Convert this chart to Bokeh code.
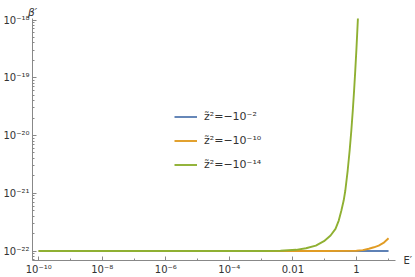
from bokeh.plotting import figure
from bokeh.models import (FixedTicker, CustomJSTickFormatter, Legend, LegendItem,
                          Range1d, LogAxis)
from bokeh.embed import file_html
from bokeh.resources import INLINE

# ---- data (log10 values) ----
series_names = ["z\u0303\u00b2=\u221210\u207b\u00b2",
                "z\u0303\u00b2=\u221210\u207b\u00b9\u2070",
                "z\u0303\u00b2=\u221210\u207b\u00b9\u2074"]
series_colors = ["#5E81B5", "#E19C24", "#8FB032"]

blue_logE = [-10.0, -5.0, 0.0, 1.01]
blue_logB = [-22.0, -22.0, -22.0, -22.0]

orange_logE = [-10.0, -1.0, 0.0, 0.2, 0.39, 0.55, 0.70, 0.85, 1.01]
orange_logB = [-22.0, -21.999, -21.995, -21.985, -21.96, -21.935, -21.905, -21.86, -21.78]

green_logE = [-10.0, -3.0, -2.39, -1.898, -1.588, -1.279, -1.022, -0.814, -0.659,
              -0.557, -0.474, -0.402, -0.350, -0.276, -0.214, -0.161, -0.115,
              -0.074, -0.037, -0.003, 0.028, 0.046, 0.068]
green_logB = [-22.0, -21.999, -21.995, -21.979, -21.952, -21.905, -21.830, -21.732, -21.616,
              -21.472, -21.299, -21.126, -20.952, -20.606, -20.260, -19.913, -19.567,
              -19.221, -18.874, -18.528, -18.182, -17.974, -17.662]

x_ticks = [1e-10, 1e-8, 1e-6, 1e-4, 1e-2, 1.0]
x_tick_labels = ["10\u207b\u00b9\u2070", "10\u207b\u2078", "10\u207b\u2076",
                 "10\u207b\u2074", "0.01", "1"]
x_minor_ticks = [1e-9, 1e-7, 1e-5, 1e-3, 1e-1, 10.0]

y_ticks = [1e-22, 1e-21, 1e-20, 1e-19, 1e-18]
y_tick_labels = ["10\u207b\u00b2\u00b2", "10\u207b\u00b2\u00b9", "10\u207b\u00b2\u2070",
                 "10\u207b\u00b9\u2079", "10\u207b\u00b9\u2078"]
y_minor_ticks = [k * 10.0 ** e for e in range(-23, -18) for k in range(2, 10)]

x_label = "E\u2032"
y_label = "\u03b2\u2032"

FONT = "DejaVu Sans"

p = figure(width=415, height=277, x_axis_type="log", y_axis_type="log",
           x_range=Range1d(10 ** -10.195, 10 ** 1.229),
           y_range=Range1d(10 ** -22.164, 10 ** -17.974),
           output_backend="svg", toolbar_location=None,
           min_border_left=28, min_border_right=18, min_border_top=18, min_border_bottom=17,
           styles={"position": "absolute", "left": "0px", "top": "0px"})
p.outline_line_color = None
p.xgrid.visible = False
p.ygrid.visible = False

fmt_code = """
const lt = Math.log10(tick);
for (let i = 0; i < tv.length; i++) {
  if (Math.abs(Math.log10(tv[i]) - lt) < 1e-6) return tl[i];
}
return "";
"""

for ax, tks, minor, labels in [(p.xaxis[0], x_ticks, x_minor_ticks, x_tick_labels),
                               (p.yaxis[0], y_ticks, y_minor_ticks, y_tick_labels)]:
    ax.ticker = FixedTicker(ticks=tks, minor_ticks=minor)
    ax.formatter = CustomJSTickFormatter(args=dict(tv=tks, tl=labels), code=fmt_code)
    ax.axis_line_color = "#888888"
    ax.axis_line_width = 1
    ax.major_tick_line_color = "#888888"
    ax.minor_tick_line_color = "#888888"
    ax.major_tick_in = 4
    ax.major_tick_out = 0
    ax.minor_tick_in = 2
    ax.minor_tick_out = 0
    ax.major_label_text_font = FONT
    ax.major_label_text_font_size = "10px"
    ax.major_label_text_color = "#333333"
    ax.major_label_standoff = 3

# axis names placed like Mathematica: beta' above the vertical axis, E' right of the horizontal axis
top_axis = LogAxis(ticker=FixedTicker(ticks=[]), axis_line_color=None,
                   major_tick_line_color=None, minor_tick_line_color=None,
                   major_label_text_font_size="0px",
                   axis_label=y_label, axis_label_align="start", axis_label_standoff=1,
                   axis_label_text_font=FONT, axis_label_text_font_size="10.5px",
                   axis_label_text_font_style="italic", axis_label_text_color="#333333")
p.add_layout(top_axis, "above")

right_axis = LogAxis(ticker=FixedTicker(ticks=[]), axis_line_color=None,
                     major_tick_line_color=None, minor_tick_line_color=None,
                     major_label_text_font_size="0px",
                     axis_label=x_label, axis_label_align="start", axis_label_standoff=8,
                     axis_label_orientation="horizontal",
                     axis_label_text_font=FONT, axis_label_text_font_size="10px",
                     axis_label_text_font_style="normal", axis_label_text_color="#333333")
p.add_layout(right_axis, "right")

renderers = []
for lx, ly, c in [(blue_logE, blue_logB, series_colors[0]),
                  (orange_logE, orange_logB, series_colors[1]),
                  (green_logE, green_logB, series_colors[2])]:
    xs = [10.0 ** v for v in lx]
    ys = [10.0 ** v for v in ly]
    r = p.line(xs, ys, line_color=c, line_width=1.9)
    renderers.append(r)

legend = Legend(items=[LegendItem(label=n, renderers=[r]) for n, r in zip(series_names, renderers)],
                location=(142, 84), orientation="vertical",
                border_line_color=None, background_fill_alpha=0,
                padding=0, margin=0, spacing=1,
                glyph_width=23, glyph_height=23, label_height=23, label_standoff=7,
                label_text_font=FONT, label_text_font_size="11px",
                label_text_color="#333333")
p.add_layout(legend, "center")

open("out.html", "w").write(file_html(p, INLINE))
